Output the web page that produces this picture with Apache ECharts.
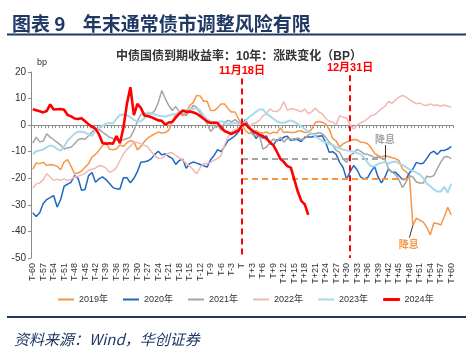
<!DOCTYPE html>
<html><head><meta charset="utf-8">
<script src="https://cdn.jsdelivr.net/npm/echarts@6/dist/echarts.min.js"></script>
<style>html,body{margin:0;padding:0;background:#fff;}#c{width:472px;height:357px;}</style>
</head><body><div id="c"></div>
<script>
const categories = [];
for (let i = -60; i <= 60; i++) categories.push(i < 0 ? 'T' + i : (i === 0 ? 'T' : 'T+' + i));

const yTicks = { min: -50, max: 20, interval: 10 };
const seriesNames = ['2019年', '2020年', '2021年', '2022年', '2023年', '2024年'];

const s2019 = [-16.7,-14.2,-14.5,-14.0,-15.2,-14.8,-15.0,-15.5,-16.8,-13.8,
-13.0,-15.5,-18.3,-18.0,-17.3,-15.8,-14.5,-12.0,-11.0,-9.5,
-7.6,-6.4,-9.1,-9.3,-9.0,-7.5,-8.0,-6.6,-5.8,-6.2,
-9.3,-8.0,-6.2,-4.8,-4.0,-3.3,-2.6,-3.0,-2.8,-2.0,
1.5,4.0,4.8,3.6,4.5,7.4,8.5,11.2,11.0,9.0,
9.0,5.5,5.5,6.5,8.0,8.0,6.2,4.9,4.9,2.4,
0,-2.0,-3.2,-2.8,-2.2,-2.8,-3.0,-2.6,-3.3,-2.6,
-3.0,-1.0,-2.8,-2.6,-2.8,-2.8,-2.2,-2.2,-2.8,-2.6,
-1.5,1.0,1.4,1.1,0.5,-1.5,-5.0,-6.0,-8.3,-7.0,
-6.4,-5.8,-5.4,-5.5,-6.4,-6.5,-7.0,-8.5,-10.5,-11.5,
-12.0,-11.5,-11.8,-12.3,-12.6,-13.3,-16.5,-17.5,-19.0,-37.7,
-35.0,-35.8,-36.5,-38.5,-41.3,-36.8,-37.0,-37.6,-34.5,-30.9,-33.8];

const s2020 = [-33.0,-34.4,-33.0,-29.5,-28.0,-27.3,-26.5,-30.8,-28.0,-23.0,
-22.2,-21.5,-19.0,-20.0,-24.5,-24.2,-19.0,-17.8,-21.5,-20.2,
-19.5,-20.5,-22.0,-23.5,-24.0,-24.0,-19.8,-19.8,-21.7,-20.0,
-17.5,-14.0,-13.8,-13.5,-12.6,-11.0,-9.8,-11.2,-10.8,-11.8,
-12.5,-14.8,-13.3,-12.8,-16.2,-14.5,-13.9,-14.3,-14.8,-15.3,
-15.8,-13.0,-11.4,-9.2,-10.0,-8.0,-5.8,-5.0,-4.0,-2.5,
0,2.1,-0.8,-2.5,-5.0,-3.6,-4.9,-4.0,-7.0,-7.5,
-5.5,-5.8,-4.5,-4.2,-5.8,-5.2,-5.5,-6.2,-4.5,-4.5,
-4.5,-4.2,-4.2,-4.0,-6.5,-10.2,-10.0,-11.0,-14.0,-16.0,
-20.4,-17.5,-15.2,-16.8,-19.5,-20.2,-19.8,-17.5,-15.5,-19.5,
-21.7,-19.5,-16.4,-17.7,-17.7,-19.0,-20.5,-20.5,-18.0,-16.5,
-14.0,-14.5,-14.3,-12.5,-10.5,-9.8,-11.0,-9.5,-9.5,-9.0,-8.0];

const s2021 = [-6.8,-4.5,-6.3,-6.0,-3.3,-4.5,-5.5,-6.5,-7.5,-9.0,
-8.5,-8.3,-7.0,-5.5,-5.0,-5.3,-4.0,-2.6,-1.4,-1.5,
-2.6,-3.6,-4.5,-5.0,-5.5,-5.9,-5.5,-5.0,-4.5,-2.0,
1.5,4.0,4.5,4.3,4.3,5.5,8.5,13.0,10.0,7.4,
5.5,7.0,5.0,4.3,3.6,5.5,7.4,6.8,4.5,3.0,
0.5,-2.4,-1.0,0.0,-2.0,1.0,1.8,1.2,2.1,1.0,
0,1.5,-1.0,-3.5,-4.0,-3.8,-9.0,-8.3,-6.5,-5.2,
-6.2,-4.5,-6.4,-5.0,-5.2,-5.8,-4.8,-5.5,-5.0,-3.6,
-3.2,-3.2,-2.9,-3.2,-4.5,-6.4,-7.6,-9.5,-10.2,-12.7,
-14.0,-11.4,-10.5,-9.1,-9.8,-10.8,-11.0,-11.5,-12.2,-12.0,
-12.5,-12.9,-16.4,-17.7,-18.5,-20.5,-23.5,-21.5,-19.0,-19.5,
-21.4,-21.8,-21.8,-19.2,-19.5,-19.0,-16.4,-13.9,-12.0,-11.8,-12.7];

const s2022 = [-23.7,-22.1,-21.8,-20.5,-18.3,-19.5,-20.8,-20.3,-20.8,-20.2,
-20.8,-20.4,-19.5,-19.3,-18.7,-18.2,-17.0,-16.6,-16.2,-15.2,
-15.4,-16.2,-17.7,-17.2,-16.0,-13.3,-10.8,-9.1,-7.9,-6.4,
-6.5,-7.0,-7.6,-8.2,-10.0,-11.5,-12.5,-12.4,-11.5,-10.5,
-10.4,-11.5,-12.3,-13.2,-14.4,-15.4,-16.8,-18.3,-16.0,-14.5,
-14.5,-14.0,-13.2,-12.5,-11.5,-7.5,-4.5,-2.5,-1.7,-1.0,
0,0.8,-1.0,0.5,1.0,1.8,3.5,4.3,6.1,5.2,
5.1,6.1,8.9,5.5,6.3,6.0,5.5,5.0,6.1,4.3,
5.0,6.4,5.0,4.3,2.5,1.5,1.2,0.1,3.6,3.0,
2.6,0.0,-1.4,0.0,0.9,1.4,2.4,3.6,3.8,5.1,
6.1,7.1,8.9,8.2,9.5,10.5,11.2,10.6,9.6,8.8,
8.0,8.3,7.6,7.4,8.0,7.4,7.6,7.1,7.6,7.1,6.8];

const s2023 = [-11.0,-9.8,-9.5,-9.2,-8.4,-7.6,-8.0,-9.0,-9.6,-8.0,
-5.8,-4.5,-3.2,-2.5,-2.5,-2.8,-3.5,-4.0,-2.0,-1.0,
-0.3,0.5,0.8,0.6,2.4,3.8,4.0,3.8,3.0,2.0,
1.4,1.5,2.5,4.8,4.5,4.0,3.6,3.4,3.2,3.6,
4.0,4.2,4.8,5.3,5.8,6.0,6.2,6.4,5.5,3.6,
2.2,1.4,0.5,1.0,1.5,1.0,0.5,0.5,0.8,0.5,
0,1.5,3.0,4.0,5.0,5.9,5.9,4.3,3.4,2.4,
1.4,0.9,0.9,1.4,1.8,1.2,0.4,-0.4,-1.5,-2.4,
-3.2,-4.3,-5.0,-6.0,-6.5,-7.1,-7.4,-8.3,-8.7,-9.2,
-9.5,-9.7,-10.0,-10.5,-11.0,-12.2,-14.0,-15.5,-15.5,-14.6,
-14.2,-13.9,-14.5,-13.9,-13.7,-14.4,-15.0,-15.8,-16.6,-17.3,
-17.9,-18.5,-20.0,-22.0,-23.0,-24.2,-25.0,-25.0,-23.2,-25.4,-22.0];

const s2024 = [6.0,5.6,5.2,4.8,5.3,7.8,5.9,6.0,6.1,5.8,
3.8,3.3,2.5,2.3,2.6,1.5,0.3,-0.6,-1.3,-3.5,
-6.7,-7.0,-6.8,-7.0,-4.1,-6.8,-1.0,8.0,14.3,3.8,
8.0,6.5,3.6,3.4,3.0,2.4,1.8,1.6,0.2,1.0,
1.2,2.8,4.3,5.5,5.0,5.1,4.8,4.3,3.4,2.4,
1.4,0.8,1.0,0.8,-0.8,-2.2,-2.8,-3.3,-2.6,-2.0,
0,0.5,-1.0,-2.0,-2.9,-3.6,-4.1,-5.1,-6.4,-7.6,
-10.0,-12.7,-13.9,-15.4,-16.0,-20.5,-25.0,-28.5,-29.8,-33.8];

const markT = 'T', markYearEnd = 'T+31';
const greyCut = { level: -12.5, end: 'T+41' };
const orangeCut = { level: -20, end: 'T+48' };

const colors = ['#F79646', '#1F67C2', '#A5A5A5', '#F0B9B6', '#A9D9EA', '#FF0000'];
const FF = "'Liberation Sans','Noto Sans CJK SC',sans-serif";
const CJK = "'Noto Sans CJK SC',sans-serif";

const datas = [s2019, s2020, s2021, s2022, s2023, s2024];
const widths = [1.5, 1.5, 1.5, 1.5, 2, 2.6];

const series = datas.map((d, k) => ({
  name: seriesNames[k], type: 'line', data: d, symbol: 'none', showSymbol: false,
  smooth: false, connectNulls: false,
  lineStyle: { color: colors[k], width: widths[k] }, itemStyle: { color: colors[k] },
  emphasis: { disabled: true }, z: 2 + k
}));

series[0].markLine = {
  silent: true, symbol: 'none', animation: false,
  data: [
    [{ coord: [markT, orangeCut.level], lineStyle: { type: [6, 4], color: '#F79646', width: 2 }, label: { show: false } },
     { coord: [orangeCut.end, orangeCut.level] }],
    [{ coord: ['T+48', -42.3], lineStyle: { type: 'solid', color: '#333', width: 1 },
       label: { show: true, formatter: '降息', position: 'start', distance: 2, color: '#F79646', fontSize: 10, fontWeight: 'bold', fontFamily: CJK } },
     { coord: ['T+49', -37.7] }]
  ]
};
series[2].markLine = {
  silent: true, symbol: 'none', animation: false,
  data: [
    [{ coord: [markT, greyCut.level], lineStyle: { type: [6, 4], color: '#A5A5A5', width: 2 }, label: { show: false } },
     { coord: [greyCut.end, greyCut.level] }],
    [{ coord: [greyCut.end, -7.5], lineStyle: { type: 'solid', color: '#333', width: 1 },
       label: { show: true, formatter: '降息', position: 'start', distance: 1, color: '#A5A5A5', fontSize: 10, fontWeight: 'bold', fontFamily: CJK } },
     { coord: [greyCut.end, -12.6] }]
  ]
};
series[5].markLine = {
  silent: true, symbol: 'none', animation: false,
  lineStyle: { type: [6, 4], color: '#FF0000', width: 2 },
  data: [
    [{ coord: [markT, 17.6], label: { show: true, formatter: '11月18日', position: 'start', distance: 2, color: '#FF0000', fontSize: 11, fontWeight: 'bold', fontFamily: FF } },
     { coord: [markT, -50] }],
    [{ coord: [markYearEnd, 18.8], label: { show: true, formatter: '12月31日', position: 'start', distance: 2, color: '#FF0000', fontSize: 11, fontWeight: 'bold', fontFamily: FF } },
     { coord: [markYearEnd, -50] }]
  ]
};

const legendData = seriesNames.map((n, k) => k === 5
  ? { name: n, icon: 'rect', itemStyle: { color: colors[k], borderColor: colors[k], borderWidth: 1 } }
  : { name: n, icon: 'rect', itemStyle: { color: colors[k] } });

const chart = echarts.init(document.getElementById('c'), null, { renderer: 'canvas' });
chart.setOption({
  animation: false,
  backgroundColor: '#fff',
  title: [
    { text: '图表 9    年末通常债市调整风险有限', left: 7, top: 9,
      textStyle: { fontFamily: CJK, fontSize: 19, fontWeight: 'bold', color: '#1F3864' } },
    { text: '中债国债到期收益率：10年：涨跌变化（BP）', left: 234, textAlign: 'center', top: 46,
      textStyle: { fontFamily: FF, fontSize: 12, fontWeight: 'bold', color: '#333' } },
    { text: '资料来源：Wind，华创证券', left: 9, top: 327,
      textStyle: { fontFamily: CJK, fontSize: 15, fontStyle: 'italic', fontWeight: 'normal', color: '#1F3864' } }
  ],
  graphic: [
    { type: 'rect', shape: { x: 7, y: 33.5, width: 459, height: 2 }, style: { fill: '#1F3864' }, silent: true },
    { type: 'rect', shape: { x: 7, y: 316, width: 459, height: 2 }, style: { fill: '#1F3864' }, silent: true }
  ],
  legend: {
    data: legendData, top: 290, left: 53, itemGap: 15, itemWidth: 16, itemHeight: 2,
    textStyle: { fontFamily: FF, fontSize: 9, color: '#333' }, selectedMode: false
  },
  grid: { left: 31, right: 19, top: 72, bottom: 99, containLabel: false },
  xAxis: [
    { type: 'category', data: categories, boundaryGap: true,
      axisLine: { show: false, onZero: false }, axisTick: { show: false },
      axisLabel: { interval: 2, rotate: 90, fontSize: 9, margin: 5, color: '#333', fontFamily: FF } },
    { type: 'category', data: categories, boundaryGap: true, position: 'bottom',
      axisLine: { show: true, onZero: true, lineStyle: { color: '#8C8C8C', width: 1 } },
      axisTick: { show: true, interval: 0, length: 3, lineStyle: { color: '#8C8C8C' } },
      axisLabel: { show: false }, splitLine: { show: false } }
  ],
  yAxis: {
    type: 'value', min: yTicks.min, max: yTicks.max, interval: yTicks.interval,
    name: 'bp', nameLocation: 'end', nameGap: 5,
    nameTextStyle: { fontFamily: FF, fontSize: 9, color: '#333', align: 'left', padding: [0, 0, 0, 6] },
    axisLine: { show: true, lineStyle: { color: '#8C8C8C' } },
    axisTick: { show: true, length: 3, lineStyle: { color: '#8C8C8C' } },
    splitLine: { show: false },
    axisLabel: { fontSize: 10, color: '#333', margin: 5, fontFamily: FF }
  },
  series: series
});
</script></body></html>
